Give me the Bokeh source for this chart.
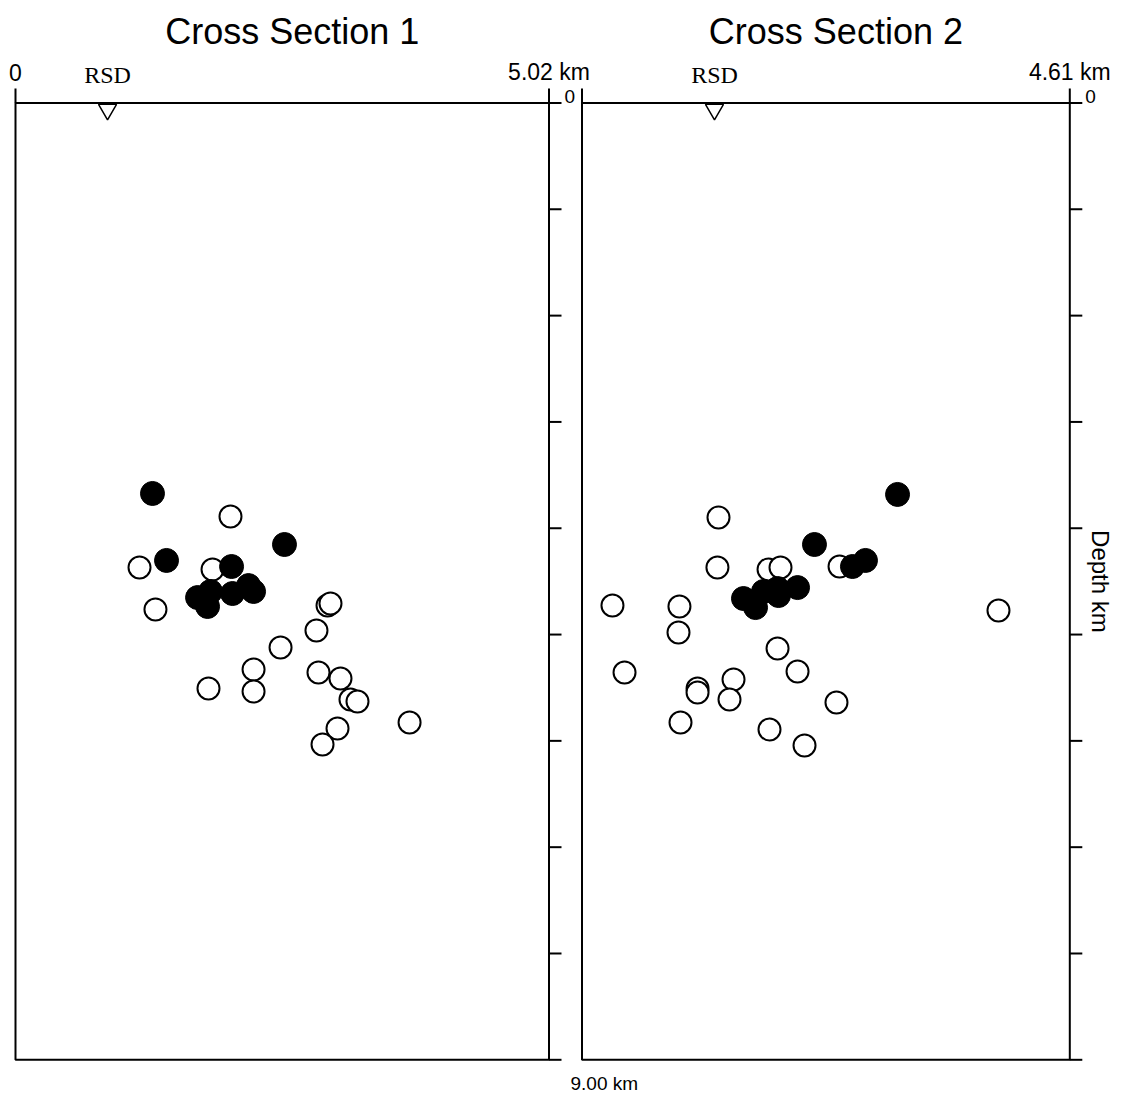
from bokeh.plotting import figure
from bokeh.models import Range1d
from bokeh.core.properties import value
from bokeh.embed import file_html
from bokeh.resources import INLINE
import math

# ---------------- data ----------------
section_titles = ["Cross Section 1", "Cross Section 2"]
section_width_km = [5.02, 4.61]
width_labels = ["5.02 km", "4.61 km"]
depth_max_km = 9.0
depth_ticks_km = [0, 1, 2, 3, 4, 5, 6, 7, 8, 9]
depth_max_label = "9.00 km"
depth_axis_title = "Depth km"
station_name = "RSD"
station_x_km = [0.866, 1.252]

# Cross section 1
s1_filled_x = [1.289, 1.421, 2.531, 2.033, 1.713, 1.807, 1.835, 2.042, 2.193, 2.240]
s1_filled_d = [3.673, 4.303, 4.153, 4.360, 4.652, 4.736, 4.595, 4.614, 4.539, 4.595]
s1_open_x = [2.023, 1.167, 1.854, 1.317, 2.936, 2.964, 2.832, 2.494, 2.240,
             2.240, 1.816, 2.851, 3.058, 3.152, 3.218, 3.708, 3.030, 2.889]
s1_open_d = [3.890, 4.369, 4.388, 4.764, 4.727, 4.708, 4.962, 5.122, 5.329,
             5.536, 5.507, 5.357, 5.413, 5.611, 5.630, 5.827, 5.884, 6.034]

# Cross section 2
s2_filled_x = [2.982, 2.197, 2.679, 2.556, 2.037, 1.526, 1.640, 1.715, 1.848, 1.857]
s2_filled_d = [3.682, 4.153, 4.303, 4.360, 4.558, 4.661, 4.746, 4.595, 4.567, 4.633]
s2_open_x = [1.290, 1.280, 1.763, 1.876, 2.434, 0.288, 0.921, 0.912, 3.936, 1.848,
             2.037, 0.402, 1.432, 1.092, 1.092, 1.394, 2.405, 0.931, 1.772, 2.103]
s2_open_d = [3.899, 4.369, 4.388, 4.369, 4.360, 4.727, 4.736, 4.981, 4.774, 5.131,
             5.348, 5.357, 5.423, 5.507, 5.545, 5.611, 5.639, 5.827, 5.893, 6.044]

# ---------------- layout (pixels, figure coordinates) ----------------
W, H = 1120, 1096
P1_L, P1_R = 15.0, 548.5
P2_L, P2_R = 581.5, 1069.3
TOP, BOT = 102.5, 1059.3

s1 = (P1_R - P1_L) / section_width_km[0]
s2 = (P2_R - P2_L) / section_width_km[1]
sy = (BOT - TOP) / depth_max_km

p = figure(width=W, height=H, output_backend="svg", toolbar_location=None,
           x_axis_location=None, y_axis_location=None,
           x_range=Range1d(-P1_L / s1, (W - P1_L) / s1),
           y_range=Range1d(depth_max_km + (H - BOT) / sy, -TOP / sy),
           min_border=0, min_border_left=0, min_border_right=0,
           min_border_top=0, min_border_bottom=0)
p.extra_x_ranges = {"x2": Range1d(-P2_L / s2, (W - P2_L) / s2)}
p.outline_line_color = None
p.xgrid.visible = False
p.ygrid.visible = False
p.background_fill_color = "white"
p.border_fill_color = "white"

SANS = value("Liberation Sans")
SERIF = value("Liberation Serif")

panels = [
    dict(rng="default", s=s1, w=section_width_km[0], title=section_titles[0],
         wl=width_labels[0], st=station_x_km[0], ox=s1_open_x, od=s1_open_d,
         fx=s1_filled_x, fd=s1_filled_d, left_label=True, bottom_label=True, axis_title=False),
    dict(rng="x2", s=s2, w=section_width_km[1], title=section_titles[1],
         wl=width_labels[1], st=station_x_km[1], ox=s2_open_x, od=s2_open_d,
         fx=s2_filled_x, fd=s2_filled_d, left_label=False, bottom_label=False, axis_title=True),
]

TICK_UP = 14.5
TICK_OUT = 12.5

for pn in panels:
    rn = pn["rng"]
    s = pn["s"]
    w = pn["w"]
    # frame
    p.quad(left=[0], right=[w], top=[0], bottom=[depth_max_km], fill_color=None,
           line_color="black", line_width=2, x_range_name=rn)
    # top ticks at 0 and width
    p.segment(x0=[0, w], y0=[0, 0], x1=[0, w], y1=[-TICK_UP / sy] * 2,
              line_color="black", line_width=2, x_range_name=rn)
    # depth ticks on right, outward
    p.segment(x0=[w] * len(depth_ticks_km), y0=depth_ticks_km,
              x1=[w + TICK_OUT / s] * len(depth_ticks_km), y1=depth_ticks_km,
              line_color="black", line_width=2, x_range_name=rn)
    # title
    p.text(x=[w / 2], y=[0], text=[pn["title"]], text_align="center",
           text_baseline="middle", x_offset=10, y_offset=-72,
           text_font=SANS, text_font_size=value("36px"), text_color="black",
           x_range_name=rn)
    # width labels
    xs, ts = [w], [pn["wl"]]
    if pn["left_label"]:
        xs.insert(0, 0)
        ts.insert(0, "0")
    p.text(x=xs, y=[0] * len(xs), text=ts, text_align="center",
           text_baseline="middle", y_offset=-31,
           text_font=SANS, text_font_size=value("23px"), text_color="black",
           x_range_name=rn)
    # depth 0 label
    p.text(x=[w + TICK_OUT / s], y=[0], text=["0"], text_align="left",
           text_baseline="middle", x_offset=3, y_offset=-7,
           text_font=SANS, text_font_size=value("19px"), text_color="black",
           x_range_name=rn)
    if pn["bottom_label"]:
        p.text(x=[w + TICK_OUT / s], y=[depth_max_km], text=[depth_max_label],
               text_align="left", text_baseline="middle", x_offset=9, y_offset=24,
               text_font=SANS, text_font_size=value("19px"), text_color="black",
               x_range_name=rn)
    if pn["axis_title"]:
        p.text(x=[w], y=[depth_max_km / 2], text=[depth_axis_title],
               text_align="center", text_baseline="middle", x_offset=31,
               angle=-math.pi / 2, text_font=SANS, text_font_size=value("24px"),
               text_color="black", x_range_name=rn)
    # station
    p.scatter(x=[pn["st"]], y=[6.5 / sy], marker="inverted_triangle", size=18,
              fill_color="white", line_color="black", line_width=1.5, x_range_name=rn)
    p.text(x=[pn["st"]], y=[0], text=[station_name], text_align="center",
           text_baseline="middle", y_offset=-28, text_font=SERIF,
           text_font_size=value("24px"), text_color="black", x_range_name=rn)
    # events
    p.scatter(x=pn["ox"], y=pn["od"], marker="circle", size=22, fill_color="white",
              line_color="black", line_width=2, x_range_name=rn)
    p.scatter(x=pn["fx"], y=pn["fd"], marker="circle", size=24, fill_color="black",
              line_color="black", line_width=1, x_range_name=rn)

open("out.html", "w").write(file_html(p, INLINE))
